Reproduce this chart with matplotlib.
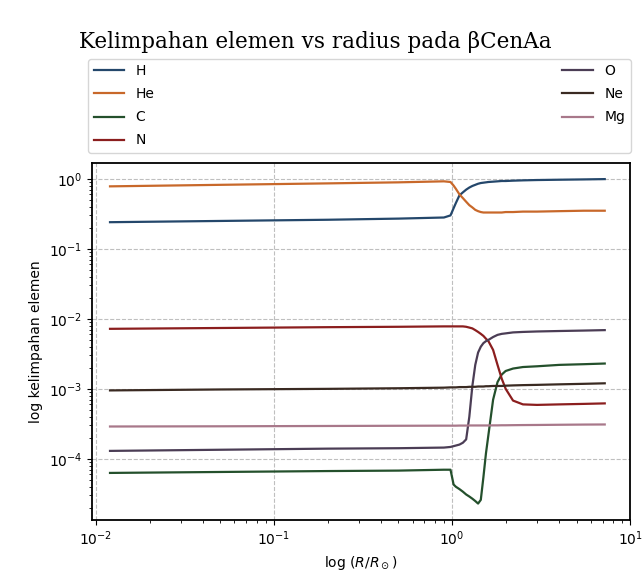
import matplotlib
matplotlib.use("Agg")
import matplotlib.pyplot as plt

# radius grid (R/Rsun) and abundances
radius = [0.012, 0.05, 0.2, 0.5, 0.9, 0.98, 1.02, 1.05, 1.1, 1.15, 1.2, 1.25, 1.3, 1.35,
          1.4, 1.45, 1.5, 1.55, 1.6, 1.7, 1.8, 1.9, 2.0, 2.2, 2.5, 3.0, 4.0, 5.5, 7.2]

H = [0.24, 0.25, 0.26, 0.27, 0.28, 0.30, 0.38, 0.45, 0.58, 0.64, 0.70, 0.75, 0.79, 0.82,
     0.85, 0.87, 0.88, 0.89, 0.90, 0.91, 0.92, 0.93, 0.93, 0.94, 0.95, 0.96, 0.97, 0.98, 0.99]
He = [0.78, 0.82, 0.86, 0.89, 0.92, 0.90, 0.80, 0.72, 0.60, 0.53, 0.47, 0.42, 0.39, 0.36,
      0.345, 0.335, 0.33, 0.33, 0.33, 0.33, 0.33, 0.33, 0.335, 0.335, 0.34, 0.34, 0.345, 0.35, 0.35]
C = [6.3e-5, 6.5e-5, 6.7e-5, 6.8e-5, 7.0e-5, 7.0e-5, 4.3e-5, 4.0e-5, 3.7e-5, 3.4e-5, 3.1e-5,
     2.9e-5, 2.7e-5, 2.5e-5, 2.3e-5, 2.6e-5, 5.5e-5, 1.2e-4, 2.2e-4, 7.0e-4, 1.25e-3, 1.6e-3,
     1.8e-3, 1.95e-3, 2.05e-3, 2.1e-3, 2.2e-3, 2.25e-3, 2.3e-3]
N = [7.2e-3, 7.4e-3, 7.6e-3, 7.7e-3, 7.8e-3, 7.8e-3, 7.8e-3, 7.8e-3, 7.8e-3, 7.8e-3, 7.7e-3,
     7.5e-3, 7.3e-3, 6.9e-3, 6.5e-3, 6.1e-3, 5.7e-3, 5.2e-3, 4.8e-3, 3.6e-3, 2.2e-3, 1.4e-3,
     1.0e-3, 6.8e-4, 6.0e-4, 5.9e-4, 6.0e-4, 6.1e-4, 6.2e-4]
O = [1.3e-4, 1.35e-4, 1.4e-4, 1.42e-4, 1.45e-4, 1.48e-4, 1.52e-4, 1.55e-4, 1.6e-4, 1.7e-4,
     1.9e-4, 4.0e-4, 1.1e-3, 2.2e-3, 3.3e-3, 4.0e-3, 4.5e-3, 4.8e-3, 5.0e-3, 5.5e-3, 5.9e-3,
     6.1e-3, 6.2e-3, 6.4e-3, 6.5e-3, 6.6e-3, 6.7e-3, 6.8e-3, 6.9e-3]
Ne = [9.5e-4, 9.8e-4, 1.0e-3, 1.02e-3, 1.04e-3, 1.05e-3, 1.05e-3, 1.05e-3, 1.06e-3, 1.06e-3,
      1.06e-3, 1.07e-3, 1.07e-3, 1.07e-3, 1.08e-3, 1.08e-3, 1.08e-3, 1.09e-3, 1.09e-3, 1.1e-3,
      1.1e-3, 1.1e-3, 1.11e-3, 1.12e-3, 1.13e-3, 1.14e-3, 1.16e-3, 1.18e-3, 1.2e-3]
Mg = [2.9e-4, 2.92e-4, 2.95e-4, 2.97e-4, 2.98e-4, 2.98e-4, 2.98e-4, 2.98e-4, 2.99e-4, 2.99e-4,
      2.99e-4, 3.0e-4, 3.0e-4, 3.0e-4, 3.0e-4, 3.0e-4, 3.0e-4, 3.0e-4, 3.0e-4, 3.01e-4, 3.01e-4,
      3.02e-4, 3.02e-4, 3.03e-4, 3.04e-4, 3.05e-4, 3.07e-4, 3.09e-4, 3.1e-4]

elements = ["H", "He", "C", "N", "O", "Ne", "Mg"]
abundances = [H, He, C, N, O, Ne, Mg]
colors = ["#24476b", "#c8682a", "#24502c", "#8b1e1e", "#4b3d55", "#3a2a22", "#a8788a"]

fig = plt.figure(figsize=(6.43, 5.88), dpi=100)
ax = fig.add_axes([0.143, 0.116, 0.837, 0.607])

for name, vals, col in zip(elements, abundances, colors):
    ax.plot(radius, vals, color=col, lw=1.6, label=name)

ax.set_xscale("log")
ax.set_yscale("log")
ax.set_xlim(0.0095, 10)
ax.grid(True, which="major", linestyle="--", color="0.75", lw=0.8)
for s in ax.spines.values():
    s.set_linewidth(1.3)

ax.set_xlabel(r"log ($R/R_\odot$)", fontsize=10)
ax.set_ylabel("log kelimpahan elemen", fontsize=10)

ax.legend(bbox_to_anchor=(-0.012, 1.02, 1.018, 0.3), loc="lower left", mode="expand",
          ncol=2, fontsize=10, labelspacing=0.65, borderaxespad=0.2, handlelength=2.2)

# title sits centred on the figure, not the axes
fig.text(0.49, 0.918, "Kelimpahan elemen vs radius pada βCenAa", ha="center",
         fontsize=15.5, family="DejaVu Serif")

fig.savefig("out.png", dpi=100)
